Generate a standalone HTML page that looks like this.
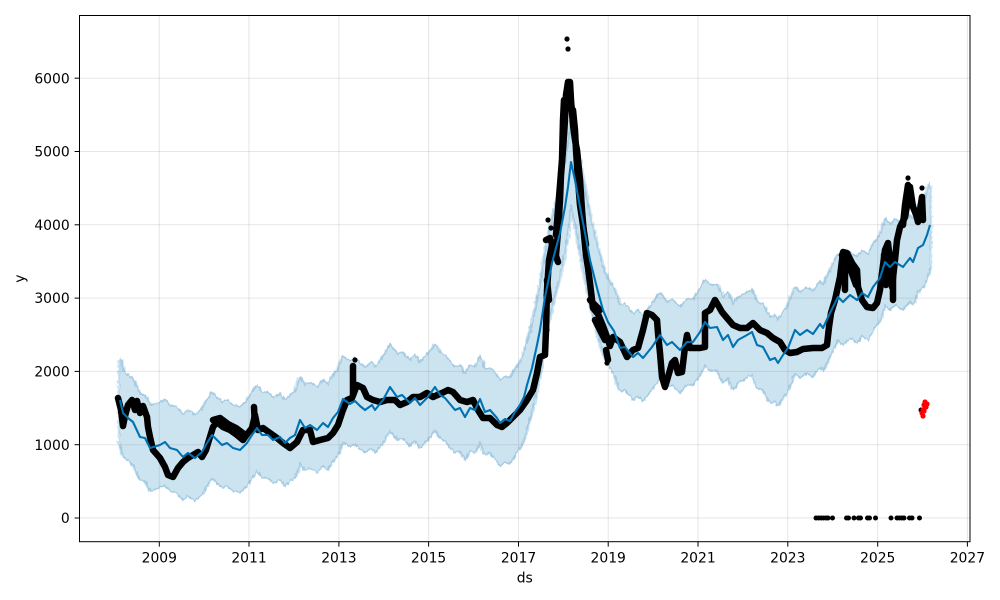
<!DOCTYPE html>
<html><head><meta charset="utf-8"><style>
html,body{margin:0;padding:0;background:#fff;}
svg{display:block;}
text{font-family:"DejaVu Sans","Liberation Sans",sans-serif;font-size:13.9px;fill:#000;}
</style></head><body>
<svg width="1000" height="600" viewBox="0 0 1000 600" xmlns="http://www.w3.org/2000/svg">
<defs>
<path id="bl" fill="none" d="M120,400 L123,413 128,418 133,422 140,437 145,438 150,448 160,445 165,442 170,448 177,450 183,457 188,453 195,458 202,452 207,443 212,435 217,440 222,445 227,443 233,448 240,450 247,443 252,435 257,428 262,435 268,435 273,440 280,437 285,443 290,438 295,435 300,420 305,428 310,425 317,430 323,423 328,427 333,418 338,412 343,399 350,404 355,401 360,406 365,410 372,405 375,410 383,400 390,387 397,397 402,395 410,403 415,398 420,405 427,398 435,387 440,395 445,398 455,410 460,408 465,417 470,408 475,410 480,399 485,412 490,410 497,418 500,423 505,419 510,421 515,412 520,405 524,397 527,385 532,368 537,345 540,330 545,297 552,263 560,233 565,207 568,187 571,162 575,180 580,207 585,233 590,260 597,288 603,310 608,322 614,331 620,348 625,347 633,357 638,353 643,358 652,347 660,335 667,345 672,342 680,350 687,342 693,342 700,332 705,322 710,328 717,327 723,340 728,335 733,347 738,340 747,335 752,332 757,345 763,347 770,360 775,358 778,363 783,355 788,348 795,330 800,335 807,330 813,334 820,324 823,328 830,313 835,303 838,297 843,302 850,295 857,300 862,293 868,297 873,287 880,278 885,262 890,267 895,262 903,267 910,258 913,262 918,248 923,245 927,235 930,225"/>
<filter id="jag" filterUnits="userSpaceOnUse" x="0" y="0" width="1000" height="600">
<feTurbulence type="fractalNoise" baseFrequency="0.5 0.2" numOctaves="1" seed="4" result="t"/>
<feDisplacementMap in="SourceGraphic" in2="t" scale="4" xChannelSelector="R" yChannelSelector="G"/>
</filter>
</defs>

<!-- uncertainty band -->
<g filter="url(#jag)">
<g stroke="#cce3f0" stroke-width="6" fill="none" stroke-linejoin="round" stroke-linecap="butt">
<use href="#bl" y="-40"/><use href="#bl" y="-35"/><use href="#bl" y="-30"/><use href="#bl" y="-25"/>
<use href="#bl" y="-20"/><use href="#bl" y="-15"/><use href="#bl" y="-10"/><use href="#bl" y="-5"/>
<use href="#bl" y="0"/><use href="#bl" y="5"/><use href="#bl" y="10"/><use href="#bl" y="15"/>
<use href="#bl" y="20"/><use href="#bl" y="25"/><use href="#bl" y="30"/><use href="#bl" y="35"/>
<use href="#bl" y="40"/>
</g>
<g stroke="#a6cbe3" stroke-width="1.6" fill="none" stroke-linejoin="round">
<use href="#bl" y="-43"/><use href="#bl" y="43"/>
</g>
<line x1="120" y1="357" x2="120" y2="443" stroke="#b5d5e8" stroke-width="1"/>
<line x1="930" y1="182" x2="930" y2="268" stroke="#b5d5e8" stroke-width="1"/>
</g>

<!-- grid -->
<g stroke="rgb(128,128,128)" stroke-opacity="0.2" stroke-width="1">
<line x1="159.3" y1="15.5" x2="159.3" y2="541.7"/>
<line x1="249.0" y1="15.5" x2="249.0" y2="541.7"/>
<line x1="338.9" y1="15.5" x2="338.9" y2="541.7"/>
<line x1="428.6" y1="15.5" x2="428.6" y2="541.7"/>
<line x1="518.5" y1="15.5" x2="518.5" y2="541.7"/>
<line x1="608.2" y1="15.5" x2="608.2" y2="541.7"/>
<line x1="698.0" y1="15.5" x2="698.0" y2="541.7"/>
<line x1="787.8" y1="15.5" x2="787.8" y2="541.7"/>
<line x1="877.7" y1="15.5" x2="877.7" y2="541.7"/>
<line x1="967.4" y1="15.5" x2="967.4" y2="541.7"/>
<line x1="79.5" y1="518" x2="970" y2="518"/>
<line x1="79.5" y1="444.7" x2="970" y2="444.7"/>
<line x1="79.5" y1="371.4" x2="970" y2="371.4"/>
<line x1="79.5" y1="298.1" x2="970" y2="298.1"/>
<line x1="79.5" y1="224.8" x2="970" y2="224.8"/>
<line x1="79.5" y1="151.5" x2="970" y2="151.5"/>
<line x1="79.5" y1="78.2" x2="970" y2="78.2"/>
</g>

<!-- observed data -->
<g stroke="#000" fill="none" stroke-width="6.5" stroke-linejoin="round" stroke-linecap="round">
<path d="M118,398 L121,410 123,426 125,416 128,405 132,400 135,410 137,401 140,413 143,406 147,417 148,427 150,437 153,450 160,458 165,467 168,475 173,477 178,468 183,462 188,458 193,455 198,452 202,457 206,450 209,440 213,427 217,422 223,427 230,430 237,435 243,440 248,433 252,428 255,415 258,430 263,428 270,433 277,438 283,443 290,448 297,442 303,430 310,430 313,442 320,440 328,438 333,433 338,425 343,410 347,400 352,398 357,385 363,388 367,397 373,400 380,402 387,400 395,400 400,405 407,402 413,397 420,397 427,393 433,397 442,393 448,390 453,392 460,400 467,402 473,400 478,410 483,418 490,418 497,425 502,427 507,423 513,417 520,410 527,400 533,390 537,373 540,357 545,355 546,330 547,290 549,260 552,245 556,255 558,232 560,200 561,175 563,150 565,120 566,95 568,82 570,82 571,100 573,125 575,140 577,150 579,170 580,180 582,210 584,235 586,255 588,268 590,283 593,308 598,314 603,326 607,337 610,346 613,337 620,342 627,357 633,350 638,348 643,330 647,313 652,315 657,320 658,333 660,353 662,377 665,387 668,377 672,363 675,360 678,373 682,372 685,347 687,335 690,348 695,348 700,348 705,347 705,313 710,310 715,300 718,305 722,312 727,318 733,325 740,328 747,328 753,323 760,330 767,333 773,338 780,342 785,350 790,353 797,352 803,349 813,348 822,348 827,345 829,327 831,313 835,300 840,277 843,252 847,253 852,263 857,270 858,287 862,300 867,307 873,308 877,303 880,290 882,273 885,250 888,243 890,260 892,287 895,260 897,240 900,227 905,217 908,200 910,187 913,207 917,217 920,210 922,197 923,220"/>
<path d="M213,420 L220,418 228,424 236,428 244,434"/>
<path d="M254,407 L255,427"/>
<path d="M353,366 L353,395"/>
<path d="M546,240 L550,238 554,250 558,262 M547,280 L549,300"/>
<path d="M556,235 L558,210 560,185 562,160 563,120 564,100 M573,110 L575,130 576,150 578,180 580,205 583,225 586,245"/>
<path d="M590,300 L600,310 M595,320 L605,340 M606,350 L608,360"/>
<path d="M842,255 L850,268 856,285 M845,260 L845,290"/>
<path d="M884,255 L886,285 M893,255 L893,300"/>
<path d="M903,225 L905,205 908,185 M915,210 L918,222"/>
</g>
<g fill="#000">
<circle cx="567" cy="39" r="2.6"/><circle cx="568" cy="49" r="2.6"/>
<circle cx="355" cy="360" r="2.6"/><circle cx="548" cy="220" r="2.6"/>
<circle cx="551" cy="228" r="2.6"/><circle cx="547" cy="330" r="2.6"/>
<circle cx="607" cy="363" r="2.6"/><circle cx="908" cy="178" r="2.6"/>
<circle cx="922" cy="188" r="2.6"/><circle cx="922" cy="197" r="2.6"/>
<circle cx="546" cy="295" r="2.6"/>
<circle cx="816" cy="518" r="2.5"/><circle cx="818.5" cy="518" r="2.5"/><circle cx="821" cy="518" r="2.5"/>
<circle cx="823.5" cy="518" r="2.5"/><circle cx="826" cy="518" r="2.5"/><circle cx="828" cy="518" r="2.5"/>
<circle cx="832.5" cy="518" r="2.5"/><circle cx="846.5" cy="518" r="2.5"/><circle cx="848.5" cy="518" r="2.5"/>
<circle cx="854" cy="518" r="2.5"/><circle cx="858.5" cy="518" r="2.5"/><circle cx="860.5" cy="518" r="2.5"/>
<circle cx="867.5" cy="518" r="2.5"/><circle cx="869.5" cy="518" r="2.5"/><circle cx="875.5" cy="518" r="2.5"/>
<circle cx="891" cy="518" r="2.5"/><circle cx="897" cy="518" r="2.5"/><circle cx="899.5" cy="518" r="2.5"/>
<circle cx="902" cy="518" r="2.5"/><circle cx="904" cy="518" r="2.5"/><circle cx="909.5" cy="518" r="2.5"/>
<circle cx="912" cy="518" r="2.5"/><circle cx="919.5" cy="518" r="2.5"/>
<circle cx="921" cy="410" r="2.5"/>
</g>

<!-- forecast line -->
<use href="#bl" stroke="#0072B2" stroke-width="2.1" fill="none" stroke-linejoin="round"/>

<!-- red points -->
<g fill="#ff0000">
<circle cx="923" cy="410" r="2.6"/><circle cx="924" cy="405" r="2.6"/><circle cx="925" cy="402" r="2.6"/>
<circle cx="922" cy="413" r="2.6"/><circle cx="923" cy="416" r="2.6"/><circle cx="926" cy="407" r="2.6"/>
<circle cx="927" cy="404" r="2.6"/><circle cx="924" cy="411" r="2.6"/>
</g>

<!-- axes frame -->
<rect x="79.5" y="15.5" width="890.5" height="526.2" fill="none" stroke="#000" stroke-width="1"/>

<!-- ticks -->
<g stroke="#000" stroke-width="1">
<line x1="159.3" y1="541.7" x2="159.3" y2="546.6"/>
<line x1="249.0" y1="541.7" x2="249.0" y2="546.6"/>
<line x1="338.9" y1="541.7" x2="338.9" y2="546.6"/>
<line x1="428.6" y1="541.7" x2="428.6" y2="546.6"/>
<line x1="518.5" y1="541.7" x2="518.5" y2="546.6"/>
<line x1="608.2" y1="541.7" x2="608.2" y2="546.6"/>
<line x1="698.0" y1="541.7" x2="698.0" y2="546.6"/>
<line x1="787.8" y1="541.7" x2="787.8" y2="546.6"/>
<line x1="877.7" y1="541.7" x2="877.7" y2="546.6"/>
<line x1="967.4" y1="541.7" x2="967.4" y2="546.6"/>
<line x1="74.6" y1="518" x2="79.5" y2="518"/>
<line x1="74.6" y1="444.7" x2="79.5" y2="444.7"/>
<line x1="74.6" y1="371.4" x2="79.5" y2="371.4"/>
<line x1="74.6" y1="298.1" x2="79.5" y2="298.1"/>
<line x1="74.6" y1="224.8" x2="79.5" y2="224.8"/>
<line x1="74.6" y1="151.5" x2="79.5" y2="151.5"/>
<line x1="74.6" y1="78.2" x2="79.5" y2="78.2"/>
</g>

<!-- tick labels -->
<g text-anchor="middle">
<text x="159.3" y="562.5">2009</text>
<text x="249.0" y="562.5">2011</text>
<text x="338.9" y="562.5">2013</text>
<text x="428.6" y="562.5">2015</text>
<text x="518.5" y="562.5">2017</text>
<text x="608.2" y="562.5">2019</text>
<text x="698.0" y="562.5">2021</text>
<text x="787.8" y="562.5">2023</text>
<text x="877.7" y="562.5">2025</text>
<text x="967.4" y="562.5">2027</text>
</g>
<g text-anchor="end">
<text x="69.7" y="523.1">0</text>
<text x="69.7" y="449.8">1000</text>
<text x="69.7" y="376.5">2000</text>
<text x="69.7" y="303.2">3000</text>
<text x="69.7" y="229.9">4000</text>
<text x="69.7" y="156.6">5000</text>
<text x="69.7" y="83.3">6000</text>
</g>
<text x="524.75" y="582.4" text-anchor="middle">ds</text>
<text transform="translate(24.3,278.6) rotate(-90)" text-anchor="middle">y</text>
</svg>
</body></html>
